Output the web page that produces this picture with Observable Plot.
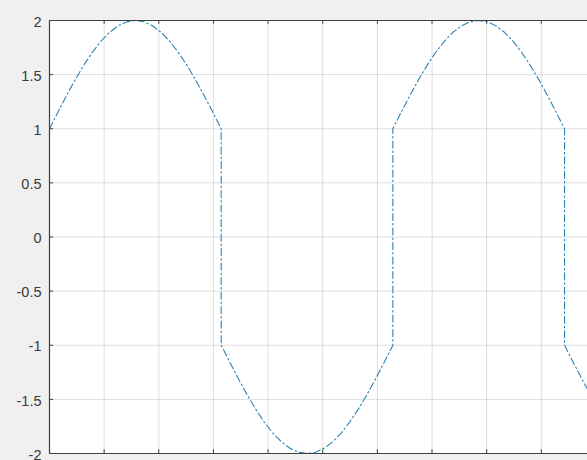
<!DOCTYPE html>
<html>
<head>
<meta charset="utf-8">
<script src="https://cdn.jsdelivr.net/npm/d3@7"></script>
<script src="https://cdn.jsdelivr.net/npm/@observablehq/plot@0.6"></script>
<style>
  html, body { margin: 0; padding: 0; background: #f0f0f0; overflow: hidden; }
  svg { display: block; }
</style>
</head>
<body>
<div id="chart"></div>
<script>
// Curve points (x in radians, dash-dot line)
const xs = [
  0, 0.157, 0.314, 0.471, 0.628, 0.785, 0.942, 1.100, 1.257, 1.414, 1.571, 1.728, 1.885, 2.042, 2.199, 2.356, 2.513, 2.670, 2.827, 2.985, 3.142,
  3.142, 3.299, 3.456, 3.613, 3.770, 3.927, 4.084, 4.241, 4.398, 4.555, 4.712, 4.869, 5.027, 5.184, 5.341, 5.498, 5.655, 5.812, 5.969, 6.126, 6.283,
  6.283, 6.440, 6.597, 6.754, 6.912, 7.069, 7.226, 7.383, 7.540, 7.697, 7.854, 8.011, 8.168, 8.325, 8.482, 8.639, 8.796, 8.954, 9.111, 9.268, 9.425,
  9.425, 9.582, 9.739, 9.896, 10.053
];
const ys = [
  1, 1.156, 1.309, 1.454, 1.588, 1.707, 1.809, 1.891, 1.951, 1.988, 2, 1.988, 1.951, 1.891, 1.809, 1.707, 1.588, 1.454, 1.309, 1.156, 1,
  -1, -1.156, -1.309, -1.454, -1.588, -1.707, -1.809, -1.891, -1.951, -1.988, -2, -1.988, -1.951, -1.891, -1.809, -1.707, -1.588, -1.454, -1.309, -1.156, -1,
  1, 1.156, 1.309, 1.454, 1.588, 1.707, 1.809, 1.891, 1.951, 1.988, 2, 1.988, 1.951, 1.891, 1.809, 1.707, 1.588, 1.454, 1.309, 1.156, 1,
  -1, -1.156, -1.309, -1.454, -1.588
];
const xTicks = [0, 1, 2, 3, 4, 5, 6, 7, 8, 9, 10];
const yTicks = [-2, -1.5, -1, -0.5, 0, 0.5, 1, 1.5, 2];
const yTickLabels = ["-2", "-1.5", "-1", "-0.5", "0", "0.5", "1", "1.5", "2"];

const data = xs.map((x, i) => ({x, y: ys[i]}));
const axisColor = "#404040";

const chart = Plot.plot({
  width: 587,
  height: 460,
  marginLeft: 49,
  marginRight: 0,
  marginTop: 20,
  marginBottom: 7,
  style: { background: "transparent", fontFamily: "'Liberation Sans', Arial, sans-serif" },
  x: { domain: [0, 9.845], axis: null },
  y: { domain: [-2, 2], axis: null },
  marks: [
    Plot.frame({ fill: "white", stroke: null }),
    Plot.gridX(xTicks, { stroke: "#000", strokeOpacity: 0.13, clip: true }),
    Plot.gridY(yTicks, { stroke: "#000", strokeOpacity: 0.13 }),
    Plot.line(data, {
      x: "x", y: "y",
      stroke: "#2a84b4",
      strokeWidth: 1.1,
      strokeDasharray: "7,3,1.5,3",
      clip: true
    }),
    // box lines
    Plot.ruleY([2, -2], { stroke: axisColor, strokeWidth: 1.2 }),
    Plot.ruleX([0], { stroke: axisColor, strokeWidth: 1.2 }),
    // inward tick marks
    Plot.ruleX(xTicks, { y1: -2, y2: -1.965, stroke: axisColor, clip: true }),
    Plot.ruleX(xTicks, { y1: 2, y2: 1.965, stroke: axisColor, clip: true }),
    Plot.ruleY(yTicks, { x1: 0, x2: 0.075, stroke: axisColor }),
    Plot.text(yTicks, {
      x: 0, y: d => d,
      text: (d, i) => yTickLabels[i],
      textAnchor: "end",
      dx: -8,
      dy: 1.5,
      fontSize: 14.5,
      fill: "#3a3a3a",
      style: "letter-spacing: 1px"
    })
  ]
});
document.getElementById("chart").appendChild(chart);
</script>
</body>
</html>
